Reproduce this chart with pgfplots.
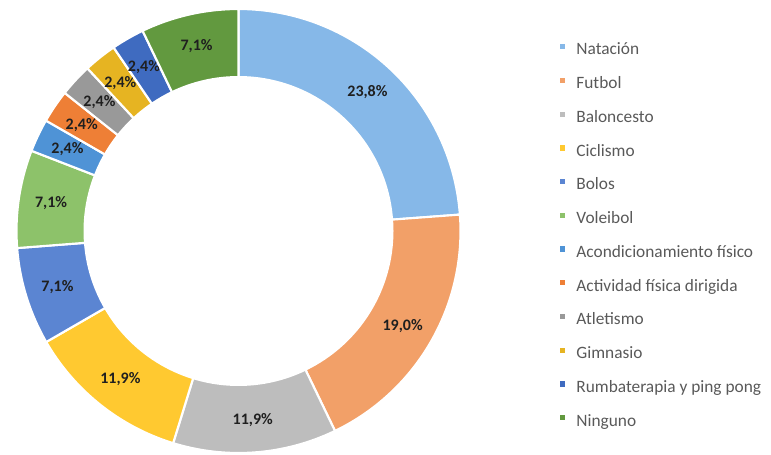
\documentclass[border=0pt]{standalone}
\usepackage{pgfplots}
\pgfplotsset{compat=1.18}
\usepackage{pgfplotstable}
\usepackage{fontspec}
\setmainfont{Carlito}

\definecolor{cNat}{HTML}{86B8E8}
\definecolor{cFut}{HTML}{F2A068}
\definecolor{cBal}{HTML}{BDBDBD}
\definecolor{cCic}{HTML}{FFC930}
\definecolor{cBol}{HTML}{5B85D2}
\definecolor{cVol}{HTML}{8DC26A}
\definecolor{cAco}{HTML}{4F93D6}
\definecolor{cAct}{HTML}{EE7F36}
\definecolor{cAtl}{HTML}{999999}
\definecolor{cGim}{HTML}{E6B422}
\definecolor{cRum}{HTML}{3F6BC0}
\definecolor{cNin}{HTML}{62993F}
\definecolor{labtxt}{HTML}{1F1F1F}
\definecolor{legtxt}{HTML}{595959}

\pgfplotstableread[col sep=comma]{
name,value,color
Natación,23.8,cNat
Futbol,19.0,cFut
Baloncesto,11.9,cBal
Ciclismo,11.9,cCic
Bolos,7.1,cBol
Voleibol,7.1,cVol
Acondicionamiento físico,2.4,cAco
Actividad física dirigida,2.4,cAct
Atletismo,2.4,cAtl
Gimnasio,2.4,cGim
Rumbaterapia y ping pong,2.4,cRum
Ninguno,7.1,cNin
}\datatable

\pgfplotstablegetrowsof{\datatable}
\pgfmathtruncatemacro\N{\pgfplotsretval-1}
\def\total{0}
\pgfplotsforeachungrouped \i in {0,...,\N}{%
  \pgfplotstablegetelem{\i}{value}\of\datatable
  \pgfmathsetmacro\total{\total+\pgfplotsretval}%
}

\def\cx{238.5}
\def\cy{223}
\def\Ro{222}
\def\Ri{155}
\def\Rl{189.5}

\begin{document}
\begin{tikzpicture}
\begin{axis}[
  width=578.25pt, height=340.5pt, scale only axis,
  xmin=0, xmax=771, ymin=0, ymax=454,
  hide axis, clip=false,
  legend image code/.code={\fill[#1,draw=none] (0pt,1pt) rectangle (3.9pt,4.9pt);},
  legend style={
    at={(axis cs:560,411.3)}, anchor=north west,
    draw=none, fill=none, inner sep=0pt,
    font=\fontsize{13}{15}\selectfont, text=legtxt,
    row sep=13.8pt, column sep=0pt,
    nodes={inner sep=0pt, text height=9pt, text depth=2.5pt},
    /tikz/every odd column/.append style={column sep=8.2pt},
  },
  legend cell align=left,
]
\path (axis cs:0,0) rectangle (axis cs:771,454);
\def\startang{90}
\pgfplotsforeachungrouped \i in {0,...,\N}{%
  \pgfplotstablegetelem{\i}{value}\of\datatable \let\v\pgfplotsretval
  \pgfplotstablegetelem{\i}{color}\of\datatable \let\c\pgfplotsretval
  \pgfplotstablegetelem{\i}{name}\of\datatable \let\nm\pgfplotsretval
  \pgfmathsetmacro\endang{\startang-\v/\total*360}%
  \pgfmathsetmacro\midang{(\startang+\endang)/2}%
  \pgfmathsetmacro\lx{\cx+\Rl*cos(\midang)}%
  \pgfmathsetmacro\ly{\cy+\Rl*sin(\midang)}%
  \pgfmathparse{\v*10}\pgfmathtruncatemacro\vt{round(\pgfmathresult)}%
  \pgfmathtruncatemacro\vi{\vt/10}%
  \pgfmathtruncatemacro\vd{\vt-10*\vi}%
  \edef\cmd{\noexpand\addplot[fill=\c, draw=white, line width=1.6pt, domain=\endang:\startang, samples=90]
    ({\cx+\Ro*cos(x)},{\cy+\Ro*sin(x)}) -- (axis cs:\cx,\cy) -- cycle;
    \noexpand\addlegendentry{\nm}
    \noexpand\node[font=\noexpand\bfseries\noexpand\fontsize{12}{14}\noexpand\selectfont, text=labtxt] at (axis cs:\lx,\ly) {\vi,\vd\noexpand\%};}%
  \cmd
  \let\startang\endang
}
\addplot[fill=white, draw=none, domain=0:360, samples=181, forget plot]
  ({\cx+\Ri*cos(x)},{\cy+\Ri*sin(x)}) -- cycle;
\end{axis}
\end{tikzpicture}
\end{document}
